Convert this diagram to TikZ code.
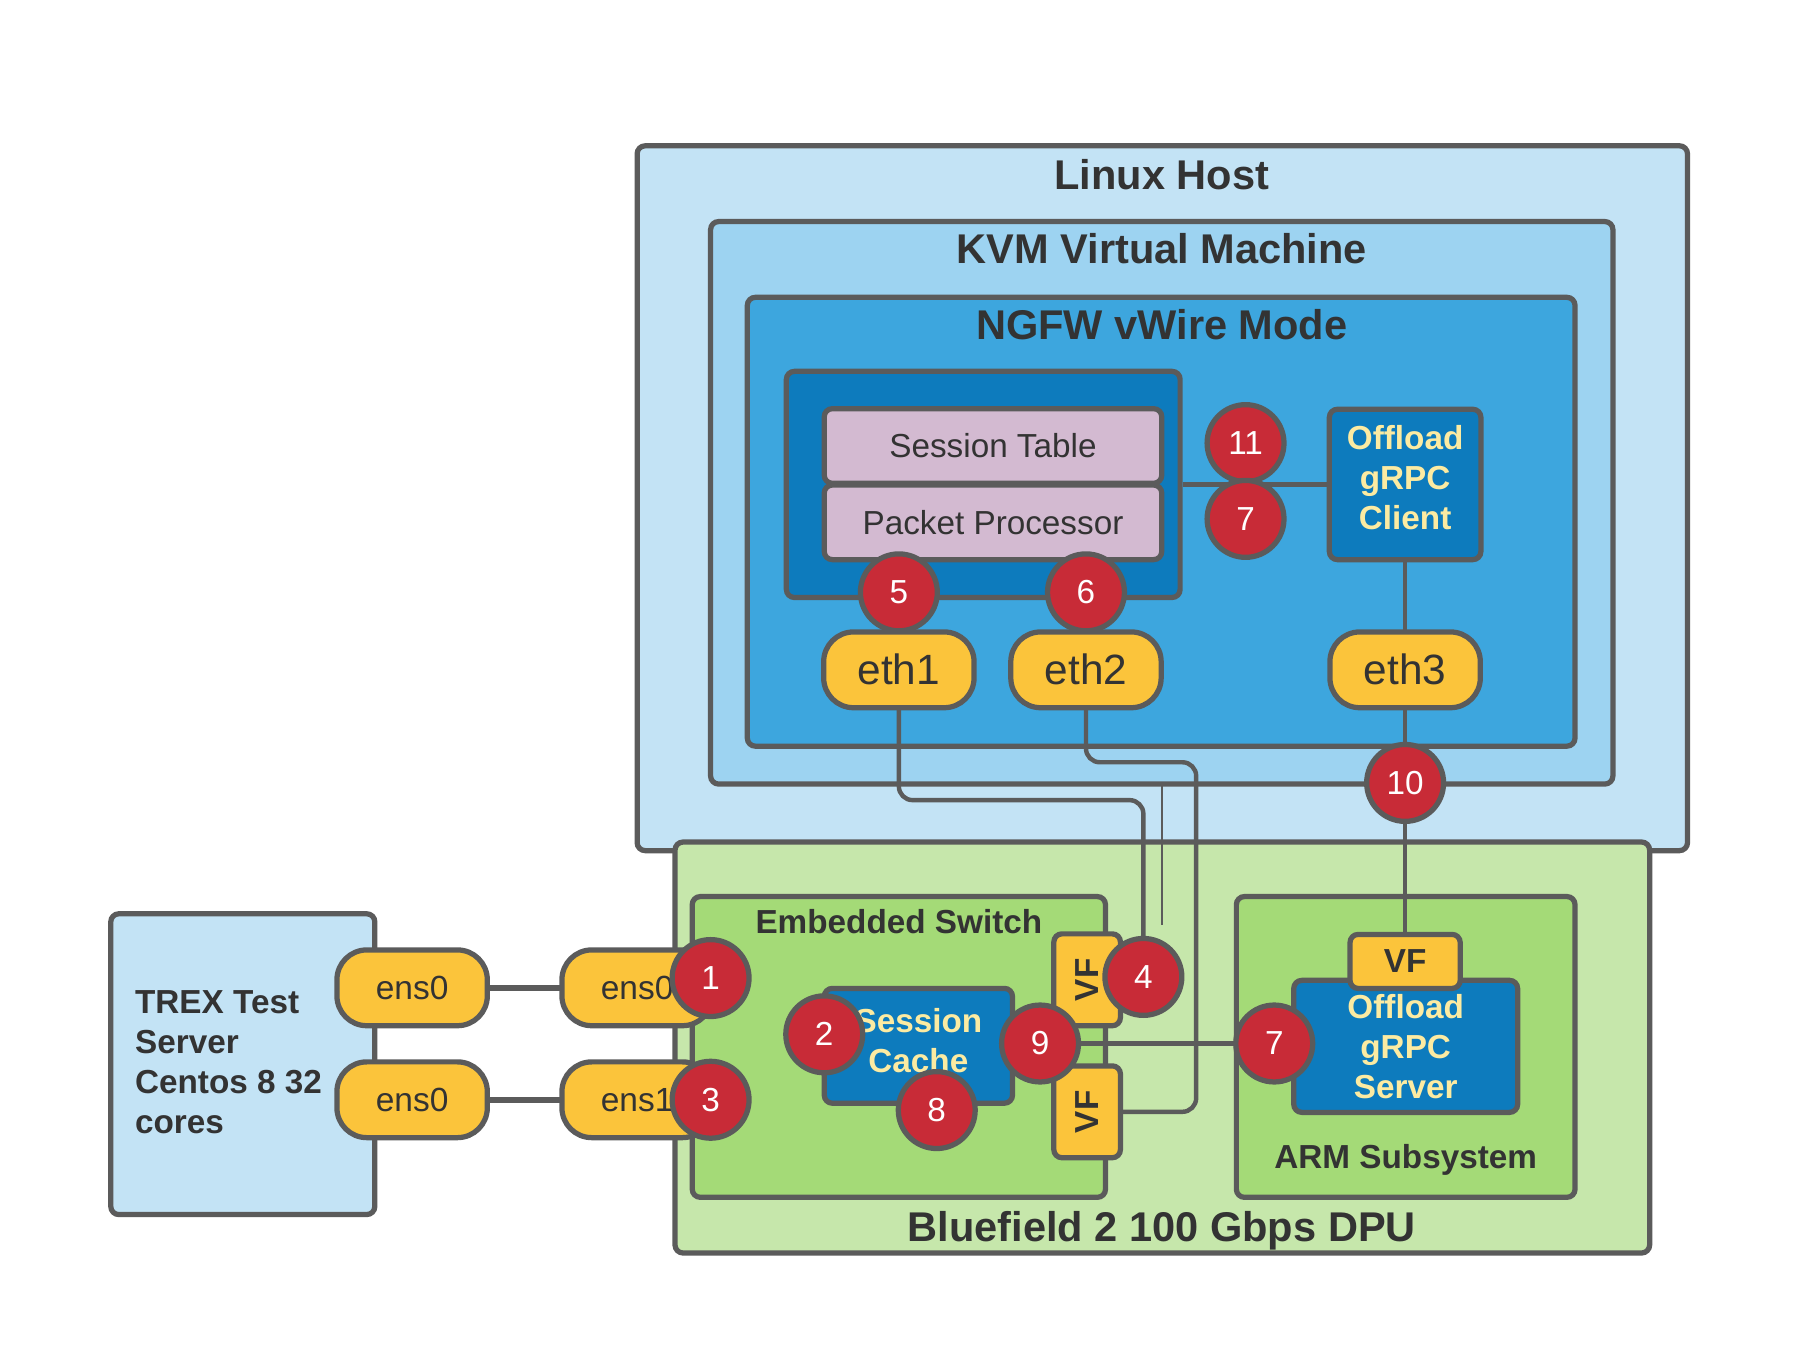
\documentclass[tikz,border=0pt]{standalone}
\usepackage{fontspec}
\setmainfont{Liberation Sans}
\usepackage{xcolor}
\usepackage{tikz}
\usetikzlibrary{positioning}
\pgfdeclarelayer{boxlayer}
\pgfdeclarelayer{edgelayer}
\pgfdeclarelayer{nodelayer}
\pgfsetlayers{boxlayer,edgelayer,nodelayer,main}
\definecolor{outline}{HTML}{5B5B5B}
\definecolor{ink}{HTML}{333333}
\definecolor{paleblue}{HTML}{C3E3F5}
\definecolor{skyblue}{HTML}{9DD3F1}
\definecolor{midblue}{HTML}{3DA6DE}
\definecolor{deepblue}{HTML}{0D7BBD}
\definecolor{lilac}{HTML}{D3BAD1}
\definecolor{amber}{HTML}{FBC43B}
\definecolor{brick}{HTML}{C82B37}
\definecolor{palegreen}{HTML}{C6E7AB}
\definecolor{leaf}{HTML}{A4DA77}
\definecolor{cream}{HTML}{FCEBA2}
\tikzset{
    none/.style = {inner sep=0pt},
    frame/.style = {draw=outline, line width=1.3pt, rounded corners=2pt, inner sep=0pt},
    pale/.style = {frame, fill=paleblue},
    sky/.style = {frame, fill=skyblue},
    mid/.style = {frame, fill=midblue},
    deep/.style = {frame, fill=deepblue, text=cream, align=center,
        font=\fontsize{8.25}{9.9}\selectfont\bfseries},
    lilac box/.style = {frame, fill=lilac, text=ink, minimum width=2.94cm,
        minimum height=0.65cm, font=\fontsize{8.25}{10}\selectfont},
    dpu/.style = {frame, fill=palegreen},
    green box/.style = {frame, fill=leaf},
    title/.style = {text=ink, inner sep=0pt, font=\fontsize{10.3}{12}\selectfont\bfseries},
    small title/.style = {text=ink, inner sep=0pt, font=\fontsize{8.25}{9.9}\selectfont\bfseries},
    pill/.style = {frame, fill=amber, rounded corners=0.26cm, text=ink,
        minimum width=1.31cm, minimum height=0.66cm},
    vf/.style = {frame, fill=amber, text=ink, font=\fontsize{8.25}{10}\selectfont\bfseries},
    badge/.style = {circle, draw=outline, line width=1.3pt, fill=brick, text=white,
        minimum size=0.67cm, inner sep=0pt, font=\fontsize{8.25}{10}\selectfont},
    wire/.style = {draw=outline, line width=1.1pt},
    thin wire/.style = {draw=outline, line width=0.5pt},
    link/.style = {draw=outline, line width=1.6pt}
}

\begin{document}
\begin{tikzpicture}[y=-1cm]
    \useasboundingbox (0,0) rectangle (15.68,11.725);
    \begin{pgfonlayer}{boxlayer}
        \node [style=pale, minimum width=9.15cm, minimum height=6.14cm] (0) at (10.125, 4.34) {};
        \node [style=sky, minimum width=7.86cm, minimum height=4.9cm] (1) at (10.12, 4.38) {};
        \node [style=mid, minimum width=7.21cm, minimum height=3.91cm] (2) at (10.115, 4.545) {};
        \node [style=deep, minimum width=3.43cm, minimum height=1.97cm] (3) at (8.565, 4.22) {};
        \node [style=lilac box] (4) at (8.65, 3.885) {Session Table};
        \node [style=lilac box] (5) at (8.65, 4.55) {Packet Processor};
        \node [style=deep, minimum width=1.32cm, minimum height=1.31cm, text depth=3.4pt] (6) at (12.24, 4.22) {Offload\\gRPC\\Client};
        \node [style=dpu, minimum width=8.49cm, minimum height=3.58cm] (7) at (10.125, 9.125) {};
        \node [style=green box, minimum width=3.6cm, minimum height=2.62cm] (8) at (7.83, 9.12) {};
        \node [style=green box, minimum width=2.95cm, minimum height=2.62cm] (9) at (12.245, 9.12) {};
        \node [style=deep, minimum width=1.64cm, minimum height=1cm, text depth=2.6pt] (10) at (8, 9.11) {Session\\Cache};
        \node [style=deep, minimum width=1.95cm, minimum height=1.15cm] (11) at (12.245, 9.115) {Offload\\gRPC\\Server};
        \node [style=pale, minimum width=2.3cm, minimum height=2.62cm] (12) at (2.115, 9.27) {};
        \node [style=title] (13) at (10.12, 1.52) {Linux Host};
        \node [style=title] (14) at (10.12, 2.17) {KVM Virtual Machine};
        \node [style=title] (15) at (10.12, 2.83) {NGFW vWire Mode};
        \node [style=title] (16) at (10.12, 10.72) {Bluefield 2 100 Gbps DPU};
        \node [style=small title] (17) at (7.83, 8.03) {Embedded Switch};
        \node [style=small title] (18) at (12.245, 10.1) {ARM Subsystem};
        \node [style=small title, anchor=west, align=left] (19) at (1.17, 9.25) {TREX Test\\Server\\Centos 8 32\\cores};
    \end{pgfonlayer}
    \begin{pgfonlayer}{nodelayer}
        \node [style=pill, font=\fontsize{10.5}{12}\selectfont] (20) at (7.83, 5.835) {eth1};
        \node [style=pill, font=\fontsize{10.5}{12}\selectfont] (21) at (9.46, 5.835) {eth2};
        \node [style=pill, font=\fontsize{10.5}{12}\selectfont] (22) at (12.24, 5.835) {eth3};
        \node [style=pill, font=\fontsize{8.3}{10}\selectfont] (23) at (3.59, 8.605) {ens0};
        \node [style=pill, font=\fontsize{8.3}{10}\selectfont] (24) at (3.59, 9.58) {ens0};
        \node [style=pill, font=\fontsize{8.3}{10}\selectfont] (25) at (5.55, 8.605) {ens0};
        \node [style=pill, font=\fontsize{8.3}{10}\selectfont] (26) at (5.55, 9.58) {ens1};
        \node [style=vf, minimum width=0.58cm, minimum height=0.8cm] (27) at (9.47, 8.535) {\rotatebox{90}{VF}};
        \node [style=vf, minimum width=0.58cm, minimum height=0.8cm] (28) at (9.47, 9.685) {\rotatebox{90}{VF}};
        \node [style=vf, minimum width=0.96cm, minimum height=0.47cm] (29) at (12.24, 8.375) {VF};
        \node [style=badge] (30) at (10.85, 3.86) {11};
        \node [style=badge] (31) at (10.85, 4.52) {7};
        \node [style=badge] (32) at (7.83, 5.16) {5};
        \node [style=badge] (33) at (9.46, 5.16) {6};
        \node [style=badge] (34) at (12.24, 6.82) {10};
        \node [style=badge] (35) at (6.19, 8.52) {1};
        \node [style=badge] (36) at (6.19, 9.58) {3};
        \node [style=badge] (37) at (9.96, 8.51) {4};
        \node [style=badge] (38) at (7.18, 9.01) {2};
        \node [style=badge] (39) at (9.06, 9.09) {9};
        \node [style=badge] (40) at (8.16, 9.67) {8};
        \node [style=badge] (41) at (11.1, 9.09) {7};
        \node [style=none] (42) at (7.83, 6.97) {};
        \node [style=none] (43) at (9.96, 6.97) {};
        \node [style=none] (44) at (9.46, 6.64) {};
        \node [style=none] (45) at (10.42, 6.64) {};
        \node [style=none] (46) at (10.42, 9.685) {};
        \node [style=none] (47) at (10.12, 6.83) {};
        \node [style=none] (48) at (10.12, 8.06) {};
    \end{pgfonlayer}
    \begin{pgfonlayer}{edgelayer}
        \draw [style=wire] (3.east) to (6.west);
        \draw [style=wire] (6.south) to (22.center);
        \draw [style=wire] (22.center) to (34.center);
        \draw [style=wire] (34.center) to (29.center);
        \draw [style=wire, rounded corners=0.12cm] (20.center) to (42.center) to (43.center) to (37.center);
        \draw [style=wire, rounded corners=0.12cm] (21.center) to (44.center) to (45.center) to (46.center) to (28.center);
        \draw [style=thin wire] (47.center) to (48.center);
        \draw [style=link] (23.center) to (25.center);
        \draw [style=link] (24.center) to (26.center);
        \draw [style=wire] (39.center) to (41.center);
    \end{pgfonlayer}
\end{tikzpicture}
\end{document}
